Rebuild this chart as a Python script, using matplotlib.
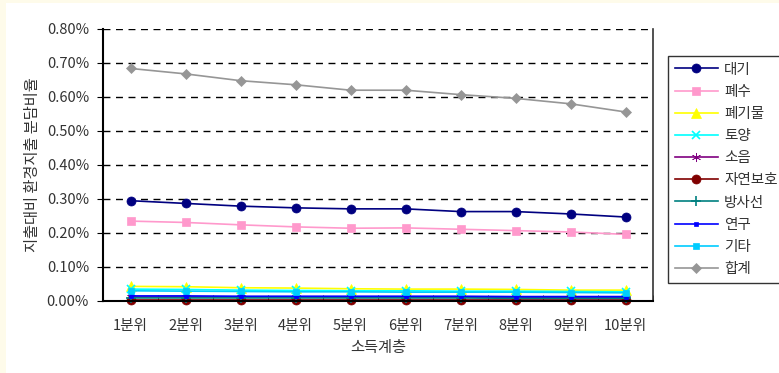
import matplotlib.pyplot as plt
from matplotlib.patches import Rectangle
from matplotlib.ticker import FuncFormatter, MultipleLocator

plt.rcParams['font.family'] = ['Noto Sans CJK KR', 'DejaVu Sans']

# 소득 분위별 환경지출 분담비율 (%)
groups = ['1분위', '2분위', '3분위', '4분위', '5분위', '6분위', '7분위', '8분위', '9분위', '10분위']
air = [0.295, 0.287, 0.279, 0.274, 0.271, 0.271, 0.263, 0.263, 0.256, 0.247]
water = [0.235, 0.231, 0.224, 0.218, 0.214, 0.215, 0.211, 0.207, 0.203, 0.196]
waste = [0.043, 0.042, 0.039, 0.038, 0.036, 0.035, 0.035, 0.034, 0.032, 0.032]
soil = [0.035, 0.034, 0.032, 0.031, 0.030, 0.030, 0.029, 0.029, 0.028, 0.027]
noise = [0.012, 0.012, 0.012, 0.012, 0.011, 0.011, 0.011, 0.011, 0.011, 0.010]
nature = [0.002, 0.002, 0.002, 0.002, 0.002, 0.002, 0.002, 0.002, 0.002, 0.002]
radiation = [0.009, 0.009, 0.009, 0.009, 0.009, 0.009, 0.009, 0.008, 0.008, 0.008]
research = [0.015, 0.015, 0.014, 0.014, 0.014, 0.014, 0.014, 0.013, 0.013, 0.013]
other = [0.030, 0.029, 0.028, 0.027, 0.027, 0.026, 0.026, 0.026, 0.025, 0.024]
total = [0.684, 0.668, 0.648, 0.636, 0.620, 0.620, 0.607, 0.596, 0.580, 0.556]

series = [
    ('대기', air, '#000080', 'o', 6.5),
    ('폐수', water, '#FF99CC', 's', 6),
    ('폐기물', waste, '#FFFF00', '^', 6.5),
    ('토양', soil, '#00FFFF', 'x', 6),
    ('소음', noise, '#800080', (6, 2, 0), 6.5),
    ('자연보호', nature, '#800000', 'o', 6.5),
    ('방사선', radiation, '#008080', '+', 7.5),
    ('연구', research, '#0000FF', 's', 3.5),
    ('기타', other, '#00CCFF', 's', 4.5),
    ('합계', total, '#969696', 'D', 5),
]

fig = plt.figure(figsize=(7.79, 3.73), dpi=100, facecolor='white')
# 바깥 테두리 (크림색)
fig.patches.append(Rectangle((0, 1 - 3 / 373), 1, 3 / 373, transform=fig.transFigure,
                             facecolor='#FEFBEA', edgecolor='none', zorder=0))
fig.patches.append(Rectangle((0, 0), 6 / 779, 1, transform=fig.transFigure,
                             facecolor='#FEFBEA', edgecolor='none', zorder=0))

ax = fig.add_axes([103 / 779, 72 / 373, 550 / 779, 272 / 373])
x = list(range(1, len(groups) + 1))

for name, vals, color, marker, ms in series:
    ax.plot(x, vals, color=color, marker=marker, markersize=ms, linewidth=1.2,
            label=name, clip_on=False, markeredgewidth=1.2 if marker in ('x', '+') else 0.5)

ax.set_xlim(0.5, 10.5)
ax.set_ylim(0, 0.8)
ax.yaxis.set_major_locator(MultipleLocator(0.1))
ax.yaxis.set_major_formatter(FuncFormatter(lambda v, p: f'{v:.2f}%'))
ax.set_xticks(x)
ax.set_xticklabels(groups)
ax.set_xticks([i + 0.5 for i in range(0, 11)], minor=True)
ax.tick_params(axis='x', which='major', length=0, pad=13, labelsize=10.5, colors='#333333')
ax.tick_params(axis='x', which='minor', length=4, direction='in')
ax.tick_params(axis='y', length=4, labelsize=10.5, colors='#333333', pad=6)
ax.tick_params(axis='both', color='black')

ax.grid(axis='y', color='black', linestyle=(0, (5, 4)), linewidth=1.0)
ax.set_axisbelow(True)
ax.spines['top'].set_visible(False)
ax.spines['left'].set_linewidth(1.5)
ax.spines['bottom'].set_linewidth(1.5)
ax.spines['right'].set_linewidth(1.2)
ax.spines['right'].set_color('#333333')

ax.set_xlabel('소득계층', fontsize=11, color='#333333', labelpad=4)
ax.set_ylabel('지출대비 환경지출 분담비율', fontsize=11, color='#333333', labelpad=4)

leg = ax.legend(loc='upper left', bbox_to_anchor=(668 / 779, 1 - 56 / 373),
                bbox_transform=fig.transFigure, frameon=True, fancybox=False,
                fontsize=10.5, handlelength=3.0, borderpad=0.45, labelspacing=0.56,
                handletextpad=0.4, borderaxespad=0)
leg.get_frame().set_edgecolor('black')
leg.get_frame().set_linewidth(1.0)
for t in leg.get_texts():
    t.set_color('#333333')

fig.savefig('out.png', dpi=100, facecolor=fig.get_facecolor())
